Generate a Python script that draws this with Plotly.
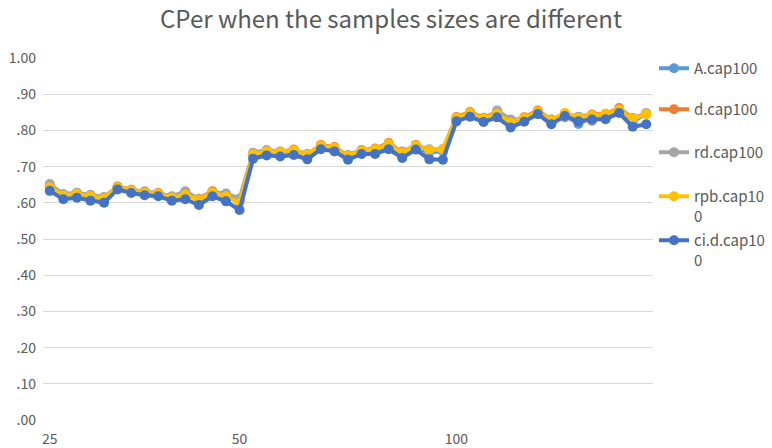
import plotly.graph_objects as go

# 45 samples: 15 each for sample sizes 25, 50, 100
idx = list(range(45))
tick_pos = [0, 14, 30]
tick_text = ["25", "50", "100"]

a_cap100 = [0.648, 0.620, 0.624, 0.618, 0.612, 0.641, 0.632, 0.629, 0.624, 0.616, 0.628, 0.608, 0.626, 0.622, 0.606,
            0.732, 0.740, 0.738, 0.742, 0.730, 0.752, 0.748, 0.728, 0.742, 0.740, 0.752, 0.736, 0.752, 0.740, 0.742,
            0.832, 0.846, 0.830, 0.852, 0.820, 0.832, 0.850, 0.824, 0.842, 0.818, 0.838, 0.836, 0.852, 0.824, 0.846]
d_cap100 = [0.646, 0.622, 0.626, 0.620, 0.614, 0.645, 0.636, 0.630, 0.627, 0.616, 0.624, 0.611, 0.632, 0.620, 0.604,
            0.735, 0.744, 0.741, 0.747, 0.734, 0.760, 0.754, 0.731, 0.745, 0.750, 0.765, 0.739, 0.760, 0.745, 0.748,
            0.837, 0.851, 0.835, 0.850, 0.824, 0.836, 0.855, 0.830, 0.846, 0.837, 0.844, 0.846, 0.862, 0.834, 0.846]
rd_cap100 = [0.652, 0.624, 0.628, 0.622, 0.616, 0.644, 0.634, 0.632, 0.626, 0.618, 0.632, 0.610, 0.630, 0.626, 0.612,
             0.738, 0.746, 0.742, 0.745, 0.735, 0.755, 0.750, 0.732, 0.746, 0.744, 0.758, 0.742, 0.756, 0.748, 0.746,
             0.834, 0.842, 0.826, 0.855, 0.830, 0.830, 0.850, 0.826, 0.836, 0.838, 0.826, 0.840, 0.855, 0.832, 0.848]
rpb_cap100 = [0.643, 0.620, 0.624, 0.618, 0.612, 0.643, 0.634, 0.628, 0.625, 0.614, 0.622, 0.608, 0.628, 0.618, 0.600,
              0.734, 0.742, 0.740, 0.745, 0.733, 0.758, 0.752, 0.730, 0.744, 0.748, 0.762, 0.738, 0.758, 0.745, 0.748,
              0.835, 0.848, 0.833, 0.846, 0.822, 0.834, 0.852, 0.828, 0.848, 0.835, 0.842, 0.845, 0.858, 0.832, 0.845]
cid_cap100 = [0.633, 0.610, 0.614, 0.606, 0.600, 0.637, 0.627, 0.621, 0.618, 0.606, 0.610, 0.594, 0.618, 0.604, 0.580,
              0.722, 0.731, 0.728, 0.732, 0.720, 0.748, 0.742, 0.719, 0.735, 0.735, 0.748, 0.724, 0.747, 0.720, 0.719,
              0.825, 0.838, 0.823, 0.836, 0.808, 0.824, 0.845, 0.817, 0.840, 0.825, 0.830, 0.831, 0.848, 0.810, 0.817]

y_ticks = [0, 0.1, 0.2, 0.3, 0.4, 0.5, 0.6, 0.7, 0.8, 0.9, 1.0]
y_labels = [".00", ".10", ".20", ".30", ".40", ".50", ".60", ".70", ".80", ".90", "1.00"]

series = [
    ("A.cap100", a_cap100, "#5B9BD5"),
    ("d.cap100", d_cap100, "#ED7D31"),
    ("rd.cap100", rd_cap100, "#A5A5A5"),
    ("rpb.cap10<br>0", rpb_cap100, "#FFC000"),
    ("ci.d.cap10<br>0", cid_cap100, "#4472C4"),
]
# pixel row of each legend symbol (from top of the image)
legend_rows = [68, 109, 152, 196, 240]

ML, MR, MT, MB = 43, 119, 58, 28
W, H = 772, 448
plot_w = W - ML - MR
plot_h = H - MT - MB

fig = go.Figure()
legends = {}
for i, (name, vals, col) in enumerate(series):
    key = "legend%d" % (i + 2)
    fig.add_trace(go.Scatter(
        x=idx, y=vals, name=name, mode="lines+markers",
        line=dict(color=col, width=4),
        marker=dict(color=col, size=10),
        legend=key,
    ))
    legends[key] = dict(
        x=(654 - ML) / plot_w, xanchor="left",
        y=(H - MB - (legend_rows[i] - 16)) / plot_h, yanchor="top",
        font=dict(size=15, color="#595959"), valign="top",
        bgcolor="rgba(0,0,0,0)",
    )

font = "Noto Sans CJK SC"
fig.update_layout(
    width=W, height=H,
    margin=dict(l=ML, r=MR, t=MT, b=MB, autoexpand=False),
    plot_bgcolor="white", paper_bgcolor="white",
    font=dict(family=font, color="#595959", size=13),
    title=dict(text="CPer when the samples sizes are different", x=391 / 772, xref="container",
               xanchor="center", y=1 - 20 / 448, yref="container", yanchor="middle",
               font=dict(size=24, color="#595959", family=font)),
    xaxis=dict(range=[-0.5, 44.5], tickvals=tick_pos, ticktext=tick_text, showgrid=False,
               zeroline=False, showline=False, ticks="", tickfont=dict(size=14),
               ticklabelstandoff=9, automargin=False),
    yaxis=dict(range=[0, 1.0], tickvals=y_ticks, ticktext=y_labels, gridcolor="#D9D9D9",
               gridwidth=1, zeroline=False, showline=False, ticks="", ticklabelstandoff=6,
               tickfont=dict(size=14), automargin=False),
    **legends,
)

fig.write_html("out.html", config={"displayModeBar": False},
               post_script="document.body.style.margin='0';")
